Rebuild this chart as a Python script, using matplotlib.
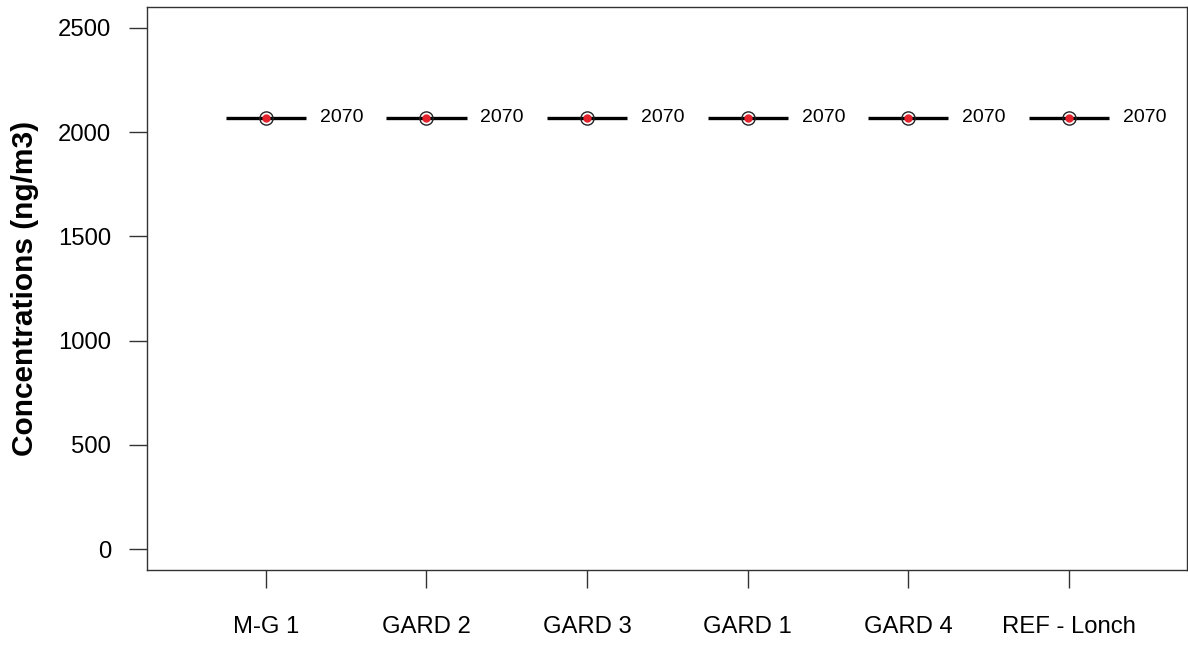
import numpy as np
import matplotlib
matplotlib.use("Agg")
import matplotlib.pyplot as plt

plt.rcParams['font.family'] = ['Liberation Sans', 'DejaVu Sans']

sites  = ["M-G 1", "GARD 2", "GARD 3", "GARD 1", "GARD 4", "REF - Lonch"]
median = [2070, 2070, 2070, 2070, 2070, 2070]
mean   = [2070, 2070, 2070, 2070, 2070, 2070]
yticks = [0, 500, 1000, 1500, 2000, 2500]

fig = plt.figure(figsize=(11.88, 6.46), dpi=100)
ax = fig.add_axes([147/1188, 76/646, 1040/1188, 563/646])

x = np.arange(1, len(sites) + 1)
# every box collapsed to a single line (all values equal)
ax.hlines(median, x - 0.25, x + 0.25, color='black', linewidth=2.4, zorder=2)
ax.plot(x, median, 'o', markersize=9.5, markerfacecolor='none',
        markeredgecolor='#222222', markeredgewidth=1, zorder=3)
ax.plot(x, mean, 'o', markersize=5, color='#e3222b', zorder=4)
for xi, m in zip(x, median):
    ax.text(xi + 0.335, m, str(m), fontsize=14, va='center', ha='left')

ax.set_xlim(0.26, 6.735)
ax.set_ylim(-100, 2600)
ax.set_xticks(x)
ax.set_xticklabels(sites, fontsize=17.2)
ax.set_yticks(yticks)
ax.set_yticklabels([str(t) for t in yticks], fontsize=17.2)
ax.tick_params(axis='x', length=13, width=1, pad=20, colors='#333333',
               labelcolor='black')
ax.tick_params(axis='y', length=13, width=1, pad=13, colors='#333333',
               labelcolor='black')
for s in ax.spines.values():
    s.set_linewidth(1)
    s.set_color('#333333')

ax.set_ylabel("Concentrations (ng/m3)", fontsize=21.5, fontweight='bold',
              labelpad=13.5)

fig.savefig("out.png", dpi=100)
